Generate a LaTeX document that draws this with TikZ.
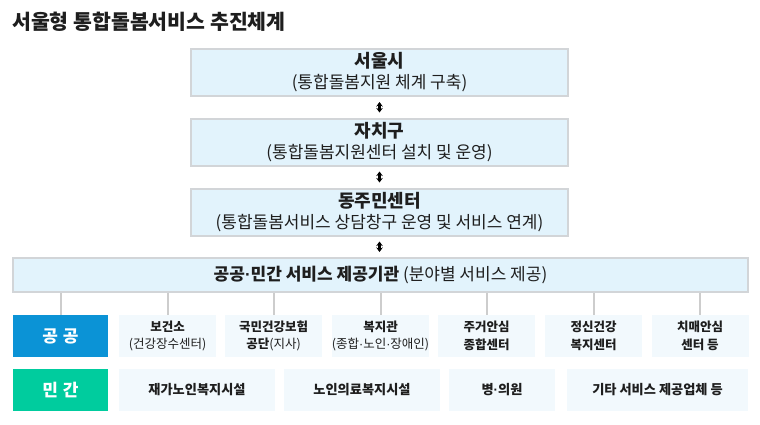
\documentclass[tikz,border=0pt]{standalone}
\usepackage{fontspec}
\setmainfont{Noto Sans CJK KR}
\newfontfamily\dotfont{Liberation Sans}
\newcommand{\md}{{\dotfont\char"00B7}}
\usetikzlibrary{arrows.meta}
\definecolor{txt}{HTML}{1E1E1E}
\definecolor{boxfill}{HTML}{E2F3FC}
\definecolor{boxline}{HTML}{D2D5D8}
\definecolor{itemfill}{HTML}{F2F9FD}
\definecolor{pubblue}{HTML}{0B93D6}
\definecolor{privgreen}{HTML}{00CC9E}
\definecolor{linkgray}{HTML}{CDCDCD}
\tikzset{
  mainbox/.style={draw=boxline, line width=2pt, fill=boxfill, inner sep=0pt, align=center,
    minimum width=377pt, minimum height=47pt, text=txt, font=\fontsize{17}{21}\selectfont},
  provbox/.style={draw=boxline, line width=2pt, fill=boxfill, inner sep=0pt, align=center,
    minimum width=735pt, minimum height=34pt, text=txt, font=\fontsize{17}{20}\selectfont},
  labelbox/.style={fill=#1, inner sep=0pt, minimum width=95pt, minimum height=42pt,
    text=white, font=\fontsize{17}{20}\selectfont\bfseries},
  itembox/.style={fill=itemfill, inner sep=0pt, align=center, minimum height=42pt,
    text=txt, font=\fontsize{12.5}{17.5}\selectfont},
  privitem/.style={itembox, font=\fontsize{13.2}{17.5}\selectfont\bfseries},
  pubitem/.style={itembox, minimum width=97pt},
  dblarrow/.style={{Stealth[length=4.5pt,width=6.5pt]}-{Stealth[length=4.5pt,width=6.5pt]}, line width=2.6pt, black, shorten <=5pt, shorten >=5pt},
  link/.style={draw=linkgray, line width=2pt}
}
\begin{document}
\begin{tikzpicture}[x=1pt,y=-1pt]
\useasboundingbox (0,0) rectangle (760,424);
\node[anchor=west, text=txt, font=\fontsize{20.5}{24}\selectfont\bfseries, inner sep=0pt] (title) at (12,22) {서울형 통합돌봄서비스 추진체계};

\node[mainbox] (seoul) at (379.5,72.5) {{\fontsize{18}{21}\selectfont\bfseries 서울시}\\(통합돌봄지원 체계 구축)};
\node[mainbox] (gu) at (379.5,142) {{\fontsize{18}{21}\selectfont\bfseries 자치구}\\(통합돌봄지원센터 설치 및 운영)};
\node[mainbox] (dong) at (379.5,212) {{\fontsize{18}{21}\selectfont\bfseries 동주민센터}\\(통합돌봄서비스 상담창구 운영 및 서비스 연계)};
\node[provbox] (prov) at (380.5,275) {\textbf{공공\md 민간 서비스 제공기관} (분야별 서비스 제공)};

\draw[dblarrow] (seoul) -- (gu);
\draw[dblarrow] (gu) -- (dong);
\draw[dblarrow] (dong) -- (dong.south |- prov.north);

\node[labelbox=pubblue] (pub) at (60.5,336) {공\hspace{5pt}공};
\node[labelbox=privgreen] (priv) at (60.5,390) {민\hspace{5pt}간};

\node[pubitem] (p1) at (167.5,336) {\textbf{보건소}\\(건강장수센터)};
\node[pubitem] (p2) at (273.5,336) {\textbf{국민건강보험}\\\textbf{공단}(지사)};
\node[pubitem] (p3) at (380.5,336) {\textbf{복지관}\\(종합\md 노인\md 장애인)};
\node[pubitem] (p4) at (486.5,336) {\textbf{주거안심}\\\textbf{종합센터}};
\node[pubitem] (p5) at (593.5,336) {\textbf{정신건강}\\\textbf{복지센터}};
\node[pubitem] (p6) at (700,336) {\textbf{치매안심}\\\textbf{센터 등}};

\node[privitem, minimum width=156pt] (q1) at (197,390) {재가노인복지시설};
\node[privitem, minimum width=156pt] (q2) at (362,390) {노인의료복지시설};
\node[privitem, minimum width=106pt] (q3) at (502,390) {병\md 의원};
\node[privitem, minimum width=181pt] (q4) at (657.5,390) {기타 서비스 제공업체 등};

\foreach \n in {pub,p1,p2,p3,p4,p5,p6}{
  \draw[link] (\n.north) -- (\n.north |- prov.south);
}
\end{tikzpicture}
\end{document}
